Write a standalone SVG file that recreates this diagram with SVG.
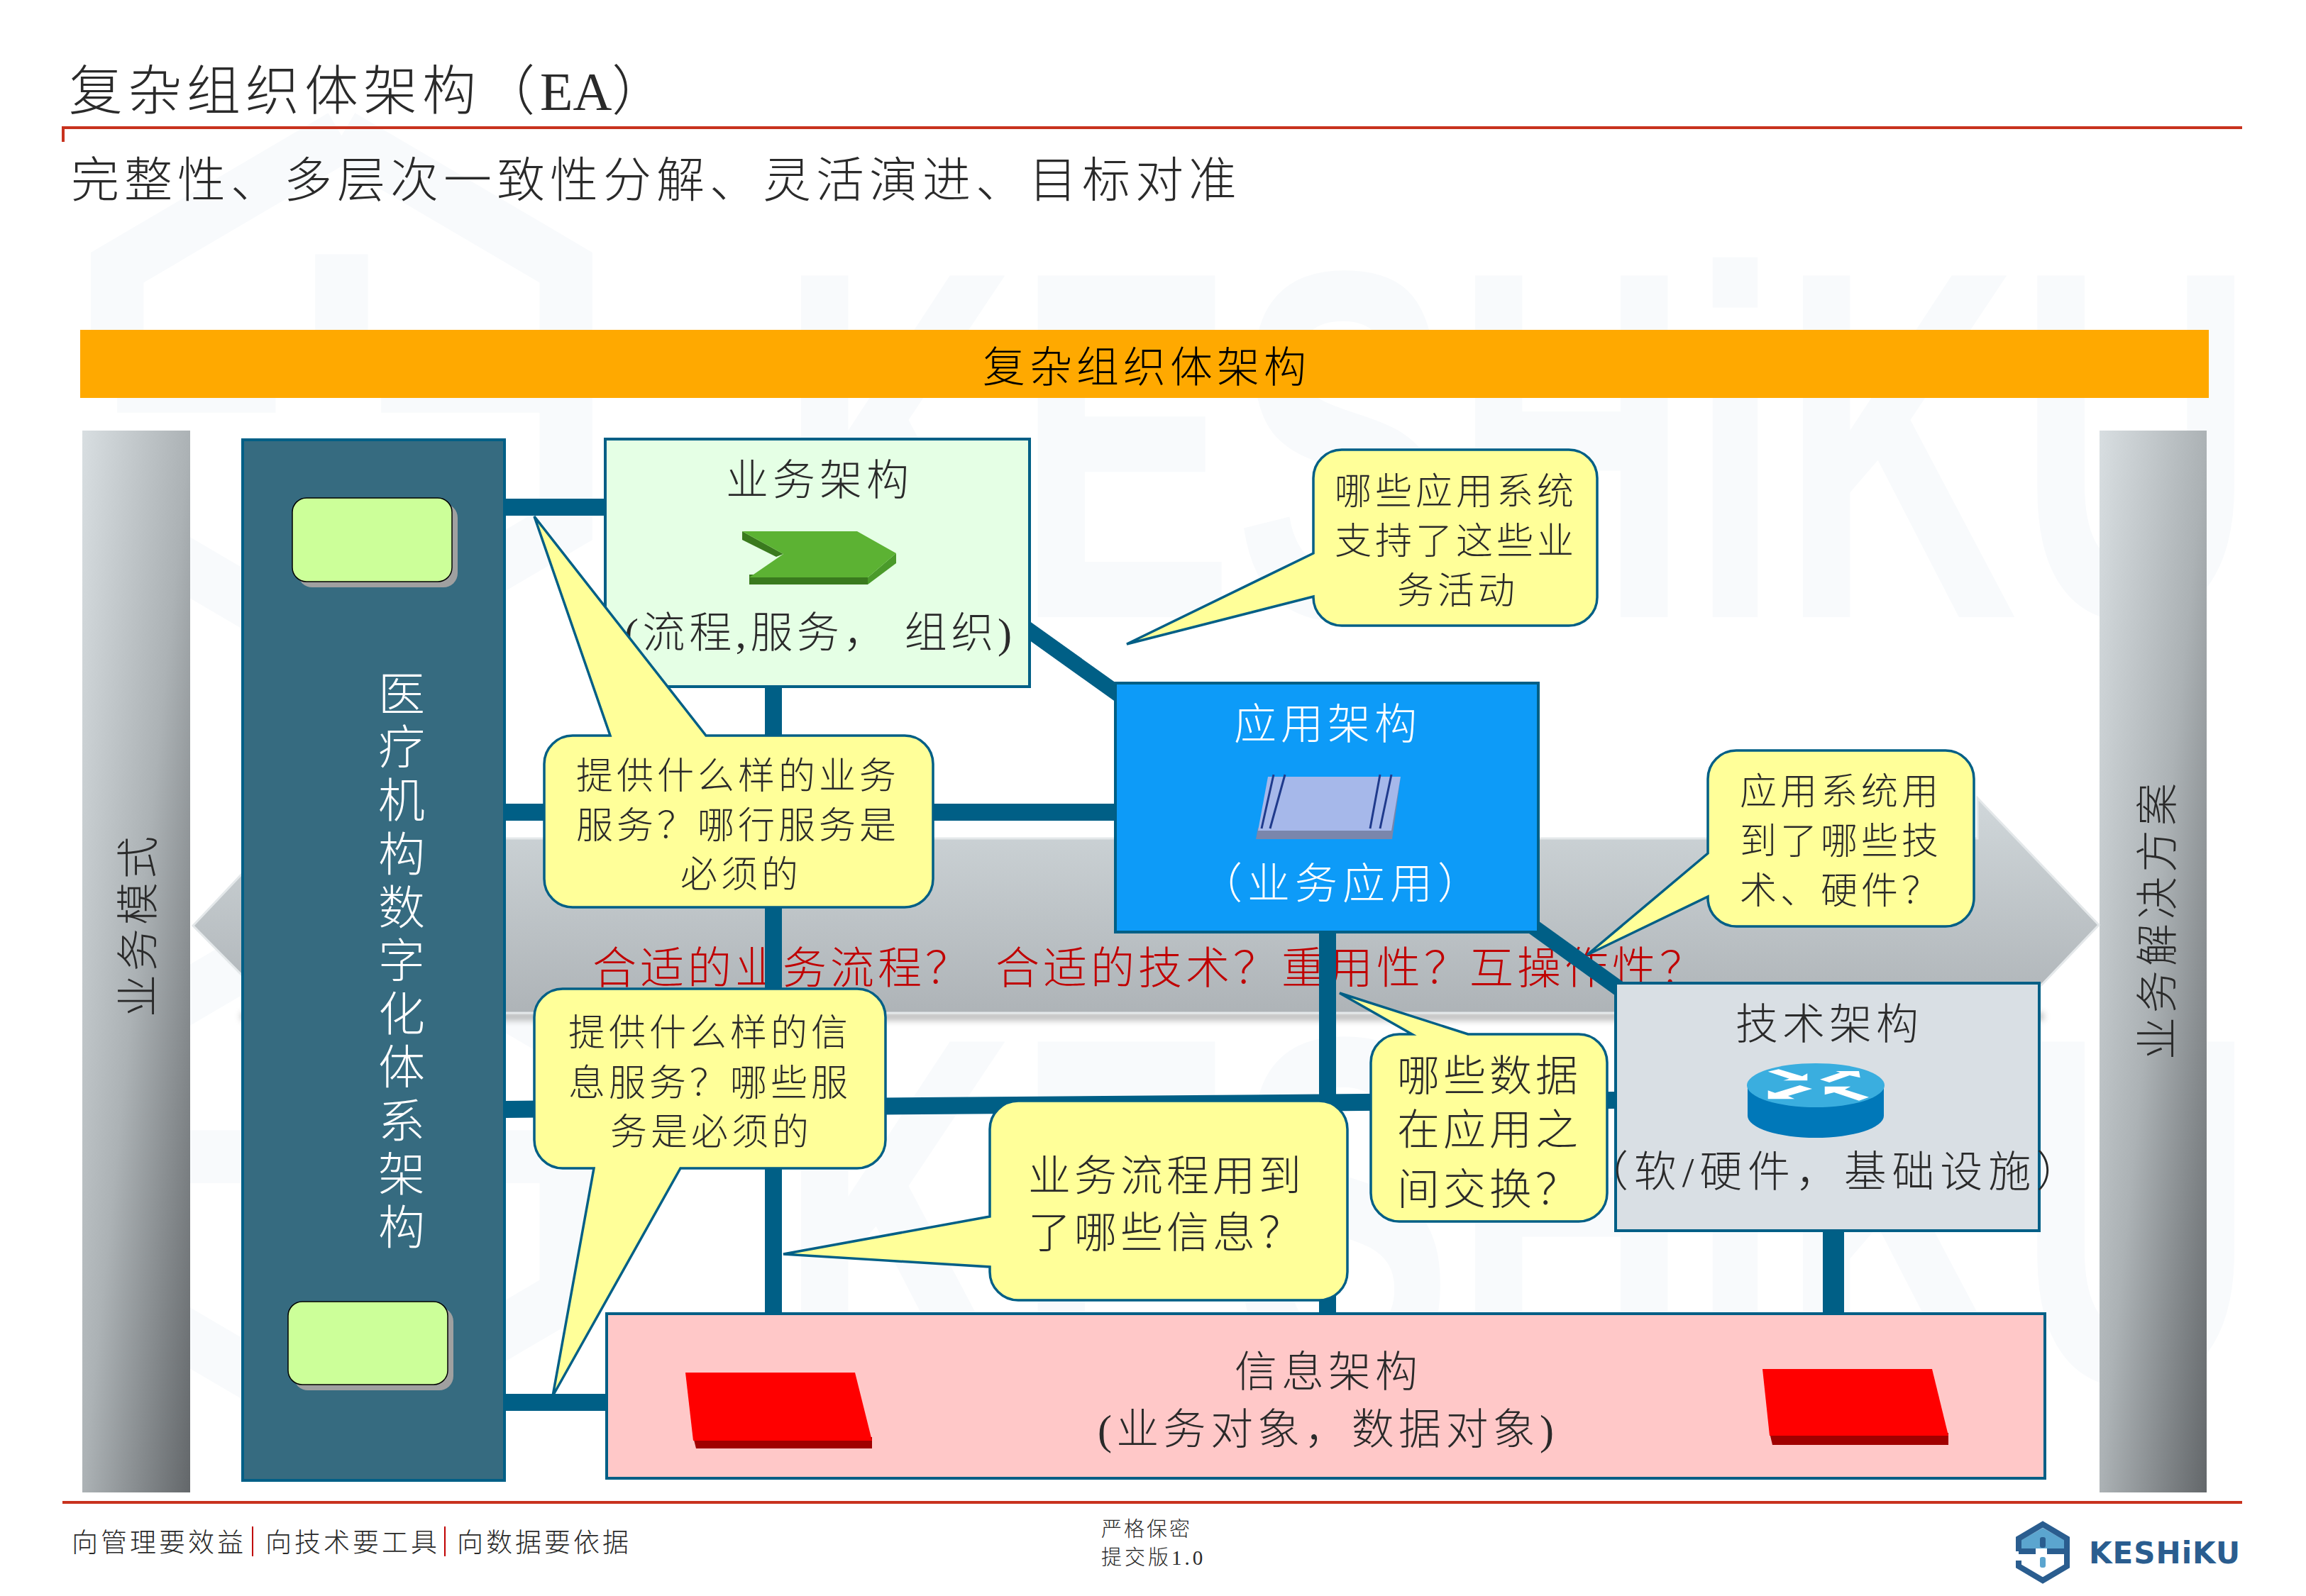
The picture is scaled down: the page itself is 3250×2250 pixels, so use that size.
<svg xmlns="http://www.w3.org/2000/svg" width="3250" height="2250" viewBox="0 0 3250 2250">
<style>
text{font-family:"Liberation Serif","Noto Sans CJK SC",sans-serif;font-weight:300;fill:#2a2a2a}
.wh{fill:#fff}
.red{fill:#c00000;font-size:62px;letter-spacing:5px}
.t60{font-size:60px;letter-spacing:6px}
.b52{font-size:52px;letter-spacing:5px}
.b60{font-size:60px;letter-spacing:5px}
.box{stroke:#005f86;stroke-width:4}
.bub{fill:#ffff99;stroke:#005f86;stroke-width:3.5;stroke-linejoin:miter}
.con{stroke:#005f86;stroke-width:24;fill:none}
.rule{stroke:#c8321e;stroke-width:4;fill:none}
.wm{fill:#f8fafc;font-family:"Liberation Sans",sans-serif;font-weight:700;font-size:700px}
</style>
<defs>
<linearGradient id="pillar" x1="0" x2="1" y1="0" y2="1"><stop offset="0" stop-color="#d8dee1"/><stop offset="0.5" stop-color="#acb2b5"/><stop offset="1" stop-color="#63676a"/></linearGradient>
<linearGradient id="band" x1="0" x2="0" y1="0" y2="1"><stop offset="0" stop-color="#d0d7da"/><stop offset="1" stop-color="#a8adb1"/></linearGradient>
<filter id="soft" x="-5%" y="-200%" width="110%" height="500%"><feGaussianBlur stdDeviation="5"/></filter>
</defs>
<rect width="3250" height="2250" fill="#fff"/>

<g id="watermark">
<g transform="translate(128,154) scale(9.3)"><path d="M38 4 72 24V63L38 83 4 63V55M4 42V24L38 4M4 42H28M44 42H72M38 22V37" fill="none" stroke="#f8fafc" stroke-width="8"/></g>
<g transform="translate(128,1240) scale(9.3)"><path d="M38 4 72 24V63L38 83 4 63V55M4 42V24L38 4M4 42H28M44 42H72M38 22V37" fill="none" stroke="#f8fafc" stroke-width="8"/></g>
<text class="wm" transform="translate(1098,870) scale(.66,1)">KESHiKU</text>
<text class="wm" transform="translate(1098,1950) scale(.66,1)">KESHiKU</text>
</g>

<g id="page-header">
<path class="rule" d="M89 200V180H3160"/>
<text x="97" y="155" font-size="76" letter-spacing="7">复杂组织体架构（<tspan letter-spacing="0">EA</tspan>）</text>
<text x="100" y="278" font-size="68" letter-spacing="7">完整性、多层次一致性分解、灵活演进、目标对准</text>
</g>

<g id="banner"><rect x="113" y="465" width="3000" height="96" fill="#ffa900"/>
<text x="1385" y="539" font-size="60" letter-spacing="6" style="fill:#000">复杂组织体架构</text></g>

<g id="pillar-left"><rect x="116" y="607" width="152" height="1497" fill="url(#pillar)"/>
<text transform="translate(216,1434) rotate(-90)" font-size="60" letter-spacing="5">业务模式</text></g>
<g id="pillar-right"><rect x="2959" y="607" width="151" height="1497" fill="url(#pillar)"/>
<text transform="translate(3062,1494) rotate(-90)" font-size="60" letter-spacing="6">业务解决方案</text></g>

<g id="band-arrow">
<rect x="340" y="1428" width="2540" height="10" fill="#777" opacity=".55" filter="url(#soft)"/>
<path d="M272 1305 442 1125 448 1182H2787V1125L2958 1304 2787 1483V1428H448V1483Z" fill="url(#band)" stroke="#e4e8ea" stroke-width="3"/>
<text class="red" x="835" y="1387">合适的业务流程？</text>
<text class="red" x="1403" y="1387">合适的技术？</text>
<text class="red" x="1806" y="1387">重用性？</text>
<text class="red" x="2071" y="1387">互操作性？</text>
</g>

<g id="connectors">
<path class="con" d="M712 715H853"/>
<path class="con" d="M712 1145H1572"/>
<path class="con" d="M712 1564 2277 1551"/>
<path class="con" d="M712 1977H855"/>
<path class="con" d="M1090 968V1851"/>
<path class="con" d="M1871 1314V1851"/>
<path class="con" style="stroke-width:30" d="M2584 1735V1851"/>
<path class="con" style="stroke-width:22" d="M1445 885 1585 985"/>
<path class="con" style="stroke-width:22" d="M2160 1306 2285 1396"/>
</g>

<g id="panel-left">
<rect class="box" x="342" y="620" width="369" height="1467" fill="#366b80"/>
<rect x="420" y="710" width="225" height="118" rx="20" fill="#a0a0a0"/>
<rect x="412" y="702" width="225" height="118" rx="20" fill="#ccff99" stroke="#000" stroke-width="1.5"/>
<rect x="414" y="1843" width="225" height="117" rx="20" fill="#a0a0a0"/>
<rect x="406" y="1835" width="225" height="117" rx="20" fill="#ccff99" stroke="#000" stroke-width="1.5"/>
<text class="wh" x="566 566 566 566 566 566 566 566 566 566 566" y="1002 1077 1152 1228 1303 1378 1453 1528 1604 1679 1754" font-size="66" text-anchor="middle">医疗机构数字化体系架构</text>
</g>

<g id="business">
<rect class="box" x="853" y="619" width="598" height="349" fill="#e5ffe5"/>
<text class="t60" x="1023" y="698">业务架构</text>
<path d="M1046 749 1104 781 1094 785 1046 761Z" fill="#3a7a1e"/>
<path d="M1056 810H1223V824H1056Z" fill="#3a7a1e"/>
<path d="M1223 814 1263 780V794L1223 824Z" fill="#4a9a2a"/>
<path d="M1046 749H1208L1263 780 1223 814H1056L1104 781Z" fill="#5cb233"/>
<text x="880" y="913" font-size="60" textLength="546">(流程,服务， 组织)</text>
</g>

<g id="application">
<rect class="box" x="1572" y="963" width="596" height="351" fill="#0d9bf8"/>
<text class="t60 wh" x="1739" y="1042">应用架构</text>
<path d="M1773 1167H1961L1974 1095 1962 1183H1770Z" fill="#7a86ac"/>
<path d="M1787 1095H1974L1961 1171H1773Z" fill="#a6b8ea"/>
<path d="M1795 1092 1778 1168M1811 1092 1790 1168M1945 1092 1931 1168M1961 1092 1945 1168" stroke="#1f3a8c" stroke-width="3" fill="none"/>
<text class="wh" x="1691" y="1267" font-size="60" letter-spacing="7">（业务应用）</text>
</g>

<g id="technology">
<rect class="box" x="2277" y="1386" width="597" height="349" fill="#d9dfe4"/>
<text class="t60" x="2446" y="1465">技术架构</text>
<ellipse cx="2559" cy="1573" rx="96" ry="31" fill="#0078b9"/>
<rect x="2463" y="1530" width="192" height="43" fill="#0078b9"/>
<ellipse cx="2559" cy="1530" rx="97" ry="31" fill="#3aaedf"/>
<g fill="#fff">
<path d="M2491.7 1510.7 2506.7 1507.3 2540 1517.3 2547.3 1513.3V1523.3H2513.3L2521.7 1520.7Z"/>
<path d="M2565 1521.7 2593.3 1512.3 2587.3 1510H2620L2621.7 1519.3 2606.7 1516 2578.3 1526Z"/>
<path d="M2491.7 1537.3 2501.7 1540.7 2536.7 1530 2554 1535 2520 1545 2529.3 1549.3H2491.7Z"/>
<path d="M2571.7 1531.7H2608.3L2600 1536 2634 1546.7 2620 1551.7 2585 1540 2571.7 1543.3Z"/>
</g>
<text x="2235" y="1673" font-size="60" textLength="695">（软/硬件，基础设施）</text>
</g>

<g id="information">
<rect class="box" x="855" y="1852" width="2027" height="232" fill="#ffc8c8"/>
<text class="t60" x="1740" y="1955">信息架构</text>
<text x="1547" y="2036" font-size="60" textLength="643">(业务对象，数据对象)</text>
<path d="M977 2026H1229V2042H981Z" fill="#a00000"/>
<path d="M966 1935H1205L1229 2031H977Z" fill="#ff0000"/>
<path d="M2494 2020H2746V2037H2498Z" fill="#a00000"/>
<path d="M2484 1930H2723L2746 2024H2494Z" fill="#ff0000"/>
</g>

<g id="bubble-business-services">
<path class="bub" d="M807 1037H860L753 728 995 1037H1275A40 40 0 0 1 1315 1077V1239A40 40 0 0 1 1275 1279H807A40 40 0 0 1 767 1239V1077A40 40 0 0 1 807 1037Z"/>
<text class="b52" x="812" y="1112">提供什么样的业务</text>
<text class="b52" x="812" y="1182">服务？哪行服务是</text>
<text class="b52" x="959" y="1251">必须的</text>
</g>
<g id="bubble-app-support">
<path class="bub" d="M1891 634H2211A40 40 0 0 1 2251 674V842A40 40 0 0 1 2211 882H1891A40 40 0 0 1 1851 842V841L1588 908 1851 780V674A40 40 0 0 1 1891 634Z"/>
<text class="b52" x="1881" y="711">哪些应用系统</text>
<text class="b52" x="1881" y="781">支持了这些业</text>
<text class="b52" x="1969" y="851">务活动</text>
</g>
<g id="bubble-app-tech">
<path class="bub" d="M2447 1058H2742A40 40 0 0 1 2782 1098V1266A40 40 0 0 1 2742 1306H2447A40 40 0 0 1 2407 1266V1264L2237 1346 2407 1203V1098A40 40 0 0 1 2447 1058Z"/>
<text class="b52" x="2452" y="1134">应用系统用</text>
<text class="b52" x="2452" y="1204">到了哪些技</text>
<text class="b52" x="2452" y="1274">术、硬件？</text>
</g>
<g id="bubble-info-services">
<path class="bub" d="M793 1394H1208A40 40 0 0 1 1248 1434V1607A40 40 0 0 1 1208 1647H959L779 1968 837 1647H793A40 40 0 0 1 753 1607V1434A40 40 0 0 1 793 1394Z"/>
<text class="b52" x="801" y="1474">提供什么样的信</text>
<text class="b52" x="801" y="1545">息服务？哪些服</text>
<text class="b52" x="860" y="1614">务是必须的</text>
</g>
<g id="bubble-process-info">
<path class="bub" d="M1435 1552H1859A40 40 0 0 1 1899 1592V1793A40 40 0 0 1 1859 1833H1435A40 40 0 0 1 1395 1793V1786L1104 1768 1395 1715V1592A40 40 0 0 1 1435 1552Z"/>
<text class="b60" x="1449" y="1679">业务流程用到</text>
<text class="b60" x="1449" y="1759">了哪些信息？</text>
</g>
<g id="bubble-data-exchange">
<path class="bub" d="M1972 1458H1990L1888 1400 2069 1458H2225A40 40 0 0 1 2265 1498V1682A40 40 0 0 1 2225 1722H1972A40 40 0 0 1 1932 1682V1498A40 40 0 0 1 1972 1458Z"/>
<text class="b60" x="1969" y="1538">哪些数据</text>
<text class="b60" x="1969" y="1614">在应用之</text>
<text class="b60" x="1969" y="1698">间交换？</text>
</g>

<g id="footer">
<path class="rule" d="M88 2118H3160"/>
<text x="101" y="2188" font-size="37" letter-spacing="4">向管理要效益</text>
<path d="M356 2152V2194M627 2152V2194" stroke="#c00000" stroke-width="2"/>
<text x="374" y="2188" font-size="37" letter-spacing="4">向技术要工具</text>
<text x="644" y="2188" font-size="37" letter-spacing="4">向数据要依据</text>
<text x="1552" y="2166" font-size="29" letter-spacing="3">严格保密</text>
<text x="1552" y="2206" font-size="29" letter-spacing="4">提交版1.0</text>
</g>

<g id="brand">
<g transform="translate(2841,2145)">
<path d="M8 38V26L38 9 68 26 76 38Z" fill="#5ba5cf"/>
<path d="M4 42V24L38 4 72 24V63L38 83 4 63V55M4 42H28M44 42H72" fill="none" stroke="#2a5d8f" stroke-width="8"/>
<rect x="34" y="22" width="8" height="15" rx="3" fill="#2a5d8f"/>
<rect x="34" y="50" width="8" height="15" rx="3" fill="#5ba5cf"/>
</g>
<text x="2944" y="2204" font-size="42" textLength="213" style="font-family:'DejaVu Sans',sans-serif;font-weight:700;fill:#2a5d8f">KESHiKU</text>
</g>
</svg>
